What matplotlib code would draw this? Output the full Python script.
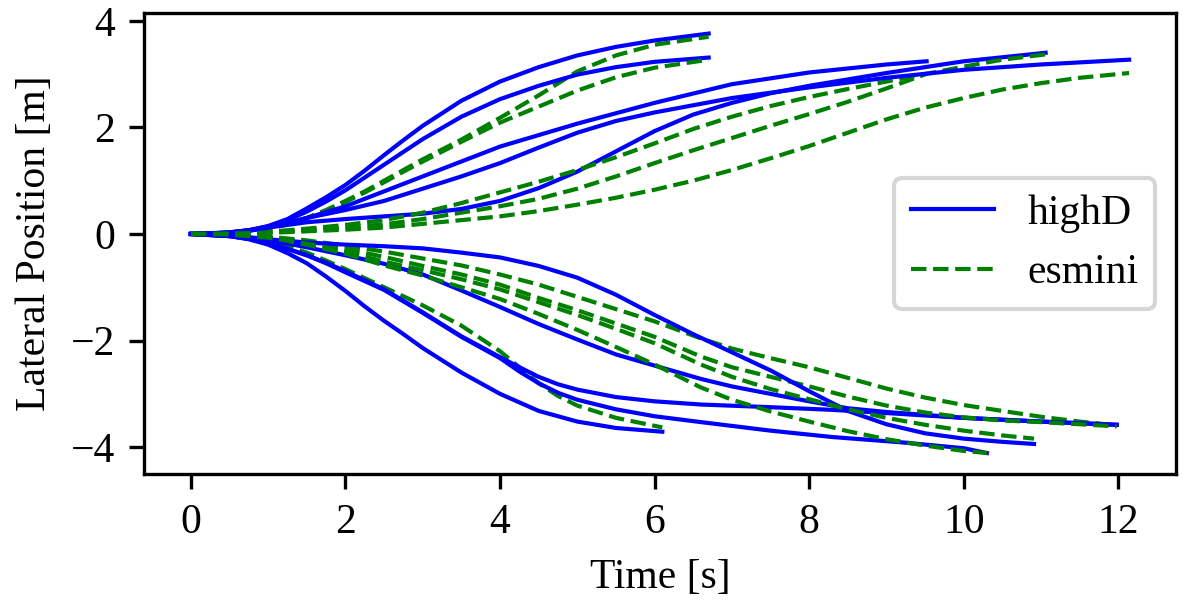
import matplotlib
matplotlib.use('Agg')
import matplotlib.pyplot as plt

plt.rcParams['font.family'] = ['Liberation Serif', 'DejaVu Serif']
plt.rcParams['font.size'] = 10

# upper group (lane change to the left)
t_a = [0, 0.25, 0.5, 0.75, 1.0, 1.25, 1.5, 1.75, 2.0, 2.25, 2.5, 2.75, 3.0, 3.5, 4.0, 4.5, 5.0, 5.5, 6.0, 6.7]
highd_a = [0, 0.01, 0.03, 0.07, 0.15, 0.28, 0.48, 0.69, 0.92, 1.19, 1.48, 1.76, 2.03, 2.5, 2.86,
           3.13, 3.35, 3.51, 3.63, 3.76]
esmini_a = [0, 0.01, 0.02, 0.05, 0.1, 0.18, 0.3, 0.45, 0.62, 0.8, 1.0, 1.2, 1.4, 1.77, 2.18,
            2.6, 3.05, 3.35, 3.55, 3.70]

t_b = t_a
highd_b = [0, 0.01, 0.03, 0.07, 0.14, 0.26, 0.42, 0.61, 0.82, 1.06, 1.3, 1.54, 1.78, 2.2, 2.53,
           2.78, 2.99, 3.13, 3.23, 3.31]
esmini_b = [0, 0.01, 0.02, 0.05, 0.1, 0.18, 0.3, 0.44, 0.6, 0.78, 0.97, 1.17, 1.36, 1.73, 2.09,
            2.39, 2.69, 2.94, 3.12, 3.27]

t_c = [0, 0.5, 0.75, 1.0, 1.25, 1.5, 1.75, 2.0, 2.25, 2.5, 3.0, 3.5, 4.0, 5.0, 6.0, 7.0, 8.0, 9.0, 9.52]
highd_c = [0, 0.02, 0.06, 0.12, 0.2, 0.3, 0.41, 0.52, 0.66, 0.8, 1.08, 1.36, 1.64, 2.07, 2.46,
           2.81, 3.03, 3.18, 3.24]
t_c_sim = [0, 0.5, 1.0, 1.5, 2.0, 2.5, 3.0, 3.5, 4.0, 4.5, 5.0, 5.5, 6.0, 6.5, 7.0, 7.5, 8.0, 8.5, 9.0, 9.53]
esmini_c = [0, 0.01, 0.03, 0.07, 0.12, 0.18, 0.28, 0.4, 0.52, 0.66, 0.85, 1.08, 1.33, 1.57, 1.8,
            2.03, 2.25, 2.48, 2.73, 3.01]

t_d = [0, 0.5, 0.75, 1.0, 1.25, 1.5, 1.75, 2.0, 2.5, 3.0, 3.5, 4.0, 4.5, 5.0, 5.5, 6.0, 6.5, 7.0,
       7.5, 8.0, 9.0, 10.0, 11.06]
highd_d = [0, 0.03, 0.07, 0.12, 0.17, 0.22, 0.25, 0.28, 0.33, 0.38, 0.47, 0.62, 0.86, 1.17, 1.55,
           1.93, 2.24, 2.46, 2.64, 2.78, 3.02, 3.24, 3.40]
t_d_sim = [0, 0.5, 1.0, 1.5, 2.0, 2.5, 3.0, 3.5, 4.0, 4.5, 5.0, 5.5, 6.0, 6.5, 7.0, 7.5, 8.0, 8.5,
           9.0, 9.5, 10.0, 10.5, 11.06]
esmini_d = [0, 0.01, 0.04, 0.1, 0.17, 0.26, 0.4, 0.58, 0.78, 0.98, 1.2, 1.44, 1.7, 1.97, 2.2, 2.4,
            2.57, 2.72, 2.86, 3.0, 3.14, 3.27, 3.37]

t_e = [0, 0.5, 0.75, 1.0, 1.25, 1.5, 2.0, 2.5, 3.0, 3.5, 4.0, 4.5, 5.0, 5.5, 6.0, 7.0, 8.0, 9.0,
       10.0, 11.0, 12.14]
highd_e = [0, 0.02, 0.06, 0.12, 0.21, 0.3, 0.45, 0.62, 0.85, 1.08, 1.33, 1.62, 1.9, 2.12, 2.28,
           2.55, 2.75, 2.93, 3.08, 3.18, 3.27]
t_e_sim = [0, 0.5, 1.0, 1.5, 2.0, 2.5, 3.0, 3.5, 4.0, 4.5, 5.0, 5.5, 6.0, 6.5, 7.0, 7.5, 8.0, 8.5,
           9.0, 9.5, 10.0, 10.5, 11.0, 11.5, 12.14]
esmini_e = [0, 0.01, 0.02, 0.05, 0.08, 0.12, 0.19, 0.26, 0.33, 0.43, 0.55, 0.68, 0.83, 1.0, 1.2,
            1.42, 1.65, 1.9, 2.15, 2.37, 2.55, 2.71, 2.83, 2.93, 3.02]

# lower group (lane change to the right)
t_f = [0, 0.5, 0.75, 1.0, 1.25, 1.5, 1.75, 2.0, 2.25, 2.5, 2.75, 3.0, 3.5, 4.0, 4.5, 5.0, 5.5, 6.1]
highd_f = [0, -0.04, -0.1, -0.2, -0.36, -0.55, -0.8, -1.07, -1.36, -1.63, -1.88, -2.14, -2.6,
           -3.0, -3.32, -3.52, -3.64, -3.71]
t_f_sim = [0, 0.5, 0.75, 1.0, 1.25, 1.5, 1.75, 2.0, 2.5, 3.0, 3.5, 4.0, 4.25, 4.5, 4.75, 5.0,
           5.5, 6.1]
esmini_f = [0, -0.03, -0.07, -0.13, -0.23, -0.35, -0.5, -0.66, -1.0, -1.34, -1.72, -2.2, -2.5,
            -2.8, -3.04, -3.22, -3.45, -3.63]

t_g = [0, 0.5, 0.75, 1.0, 1.25, 1.5, 2.0, 2.5, 3.0, 3.5, 4.0, 4.5, 5.0, 5.5, 6.0, 6.6, 7.0, 7.5,
       8.0, 8.5, 9.0, 10.0, 11.0, 11.98]
highd_g = [0, -0.03, -0.07, -0.12, -0.18, -0.25, -0.4, -0.56, -0.76, -1.06, -1.37, -1.69, -1.98,
           -2.26, -2.47, -2.72, -2.86, -3.0, -3.14, -3.27, -3.34, -3.45, -3.52, -3.58]
t_g_sim = [0, 0.5, 1.0, 1.5, 2.0, 2.5, 3.0, 3.5, 4.0, 4.5, 5.0, 5.5, 6.0, 6.6, 7.0, 7.5, 8.0, 8.5,
           9.0, 9.5, 10.0, 10.5, 11.0, 11.5, 11.98]
esmini_g = [0, -0.01, -0.05, -0.12, -0.22, -0.33, -0.46, -0.59, -0.76, -0.95, -1.18, -1.41, -1.64,
            -1.96, -2.15, -2.33, -2.5, -2.7, -2.9, -3.07, -3.21, -3.32, -3.43, -3.52, -3.59]

t_h = [0, 0.5, 0.75, 1.0, 1.25, 1.5, 1.75, 2.0, 2.5, 3.0, 3.5, 4.0, 4.25, 4.5, 4.75, 5.0, 5.5,
       6.0, 6.6, 7.5, 8.3, 9.0, 10.0, 11.0, 11.98]
highd_h = [0, -0.04, -0.09, -0.18, -0.28, -0.4, -0.54, -0.7, -1.04, -1.47, -1.92, -2.31, -2.5,
           -2.68, -2.82, -2.92, -3.06, -3.14, -3.2, -3.25, -3.3, -3.36, -3.45, -3.52, -3.58]
t_h_sim = t_g_sim
esmini_h = [0, -0.01, -0.06, -0.15, -0.28, -0.43, -0.6, -0.76, -0.95, -1.2, -1.43, -1.68, -1.93,
            -2.3, -2.5, -2.68, -2.86, -3.05, -3.22, -3.35, -3.44, -3.5, -3.53, -3.57, -3.61]

t_i = [0, 0.5, 0.75, 1.0, 1.25, 1.5, 1.75, 2.0, 2.5, 3.0, 3.5, 4.0, 4.25, 4.5, 4.75, 5.0, 5.5,
       6.0, 6.6, 7.5, 8.3, 9.2, 10.0, 10.3]
highd_i = [0, -0.04, -0.09, -0.18, -0.28, -0.4, -0.55, -0.72, -1.05, -1.48, -1.93, -2.33, -2.58,
           -2.8, -2.98, -3.11, -3.29, -3.42, -3.53, -3.69, -3.81, -3.91, -4.02, -4.11]
t_i_sim = [0, 0.5, 1.0, 1.5, 2.0, 2.5, 3.0, 3.5, 4.0, 4.5, 5.0, 5.5, 6.0, 6.6, 7.0, 7.5, 8.0, 8.5,
           9.0, 9.5, 10.0, 10.3]
esmini_i = [0, -0.01, -0.07, -0.2, -0.37, -0.59, -0.78, -1.0, -1.22, -1.5, -1.8, -2.12, -2.45,
            -2.88, -3.11, -3.33, -3.52, -3.7, -3.85, -3.97, -4.07, -4.11]

t_j = [0, 0.5, 0.75, 1.0, 1.25, 1.5, 2.0, 2.5, 3.0, 3.5, 4.0, 4.5, 5.0, 5.5, 6.0, 6.5, 7.0, 7.5,
       8.0, 8.5, 9.0, 9.5, 10.0, 10.5, 10.91]
highd_j = [0, -0.03, -0.06, -0.1, -0.13, -0.16, -0.2, -0.23, -0.27, -0.35, -0.44, -0.6, -0.82,
           -1.14, -1.52, -1.88, -2.22, -2.56, -2.95, -3.32, -3.57, -3.74, -3.84, -3.9, -3.94]
t_j_sim = [0, 0.5, 1.0, 1.5, 2.0, 2.5, 3.0, 3.5, 4.0, 4.5, 5.0, 5.5, 6.0, 6.6, 7.0, 7.5, 8.0, 8.5,
           9.0, 9.5, 10.0, 10.5, 10.91]
esmini_j = [0, -0.01, -0.07, -0.18, -0.33, -0.52, -0.68, -0.85, -1.04, -1.28, -1.52, -1.78, -2.05,
            -2.45, -2.68, -2.91, -3.1, -3.29, -3.45, -3.58, -3.69, -3.78, -3.84]

highd_runs = [(t_a, highd_a), (t_b, highd_b), (t_c, highd_c), (t_d, highd_d), (t_e, highd_e),
              (t_f, highd_f), (t_g, highd_g), (t_h, highd_h), (t_i, highd_i), (t_j, highd_j)]
esmini_runs = [(t_a, esmini_a), (t_b, esmini_b), (t_c_sim, esmini_c), (t_d_sim, esmini_d),
               (t_e_sim, esmini_e), (t_f_sim, esmini_f), (t_g_sim, esmini_g), (t_h_sim, esmini_h),
               (t_i_sim, esmini_i), (t_j_sim, esmini_j)]

fig, ax = plt.subplots(figsize=(4, 2), dpi=300)
fig.subplots_adjust(left=0.12, right=0.98, bottom=0.21, top=0.979)

for i, ((t1, y1), (t2, y2)) in enumerate(zip(highd_runs, esmini_runs)):
    ax.plot(t1, y1, c='b', lw=1.0, label='highD' if i == 0 else None)
    ax.plot(t2, y2, c='g', lw=1.0, ls='--', label='esmini' if i == 0 else None)

ax.set_xlabel('Time [s]')
ax.set_ylabel('Lateral Position [m]')
ax.set_xticks([0, 2, 4, 6, 8, 10, 12])
ax.set_yticks([-4, -2, 0, 2, 4])
ax.legend(loc='center right')

fig.savefig('out.png', dpi=300)
